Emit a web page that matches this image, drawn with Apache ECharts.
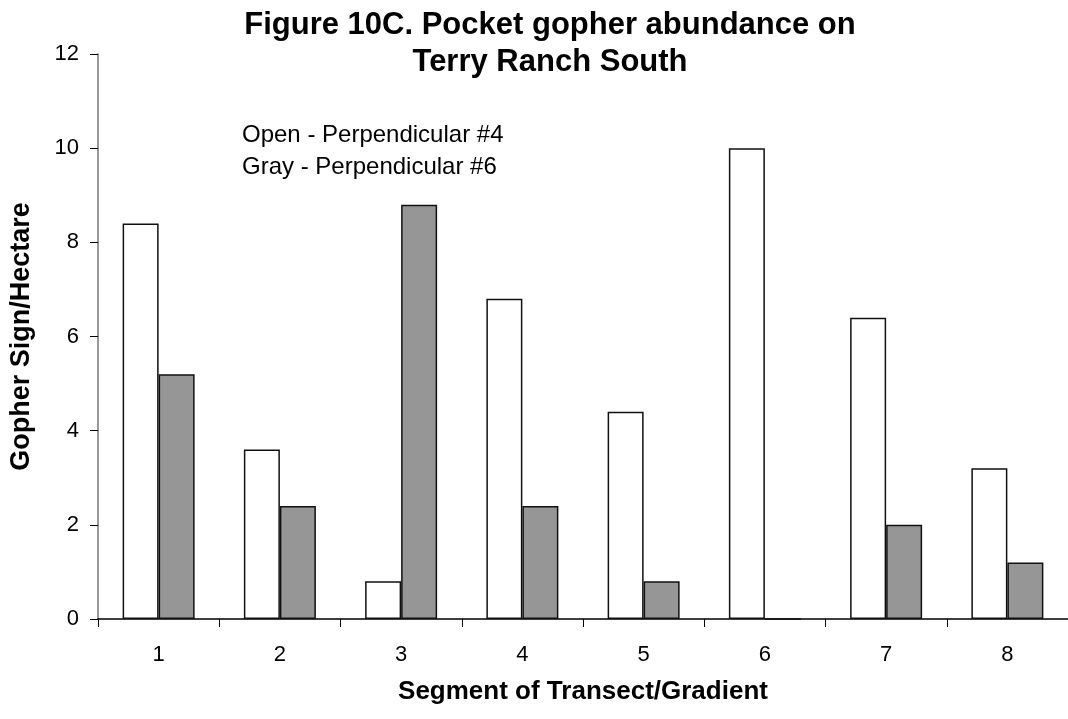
<!DOCTYPE html>
<html>
<head>
<meta charset="utf-8">
<script src="https://cdn.jsdelivr.net/npm/echarts@6/dist/echarts.min.js"></script>
<style>
  html, body { margin: 0; padding: 0; background: #fff; }
  #chart { width: 1068px; height: 719px; }
</style>
</head>
<body>
<div id="chart"></div>
<script>
// segments along the transect
var segments = ['1', '2', '3', '4', '5', '6', '7', '8'];
// open bars - perpendicular #4
var perp4 = [8.4, 3.6, 0.8, 6.8, 4.4, 10, 6.4, 3.2];
// gray bars - perpendicular #6
var perp6 = [5.2, 2.4, 8.8, 2.4, 0.8, 0, 2.0, 1.2];
var yTicks = [0, 2, 4, 6, 8, 10, 12];

var font = '"Liberation Sans", Arial, sans-serif';
var chart = echarts.init(document.getElementById('chart'));

chart.setOption({
  animation: false,
  backgroundColor: '#fff',
  title: {
    text: 'Figure 10C. Pocket gopher abundance on\nTerry Ranch South',
    left: 545,
    top: 2,
    textAlign: 'center',
    textStyle: {
      fontFamily: font,
      fontSize: 31,
      fontWeight: 'bold',
      color: '#000',
      lineHeight: 37
    }
  },
  graphic: [
    {
      type: 'text',
      left: 242,
      top: 119,
      style: {
        text: 'Open - Perpendicular #4\nGray - Perpendicular #6',
        font: '24px ' + font,
        lineHeight: 32,
        fill: '#000'
      }
    }
  ],
  grid: {
    left: 98,
    top: 54,
    bottom: 100,
    width: 980
  },
  xAxis: {
    type: 'category',
    data: segments,
    name: 'Segment of Transect/Gradient',
    nameLocation: 'middle',
    nameGap: 60,
    nameTextStyle: { fontFamily: font, fontSize: 26, fontWeight: 'bold', color: '#000' },
    axisLine: { lineStyle: { color: '#000', width: 1.5 } },
    axisTick: { show: true, length: 8, lineStyle: { color: '#000' } },
    axisLabel: { fontFamily: font, fontSize: 22, color: '#000', margin: 25 },
    splitLine: { show: false }
  },
  yAxis: {
    type: 'value',
    min: yTicks[0],
    max: yTicks[yTicks.length - 1],
    interval: 2,
    name: 'Gopher Sign/Hectare',
    nameLocation: 'middle',
    nameGap: 63,
    nameRotate: 90,
    nameTextStyle: { fontFamily: font, fontSize: 27, fontWeight: 'bold', color: '#000' },
    axisLine: { show: true, lineStyle: { color: '#777', width: 1.5 } },
    axisTick: { show: true, length: 8, lineStyle: { color: '#000' } },
    axisLabel: { fontFamily: font, fontSize: 22, color: '#000', margin: 19 },
    splitLine: { show: false }
  },
  series: [
    {
      name: 'Perpendicular #4',
      type: 'bar',
      data: perp4,
      barWidth: 36,
      barGap: '0%',
      itemStyle: { color: '#fff', borderColor: '#111', borderWidth: 1.5 }
    },
    {
      name: 'Perpendicular #6',
      type: 'bar',
      data: perp6,
      barWidth: 36,
      barGap: '0%',
      itemStyle: { color: '#969696', borderColor: '#111', borderWidth: 1.5 }
    }
  ]
});
</script>
</body>
</html>
